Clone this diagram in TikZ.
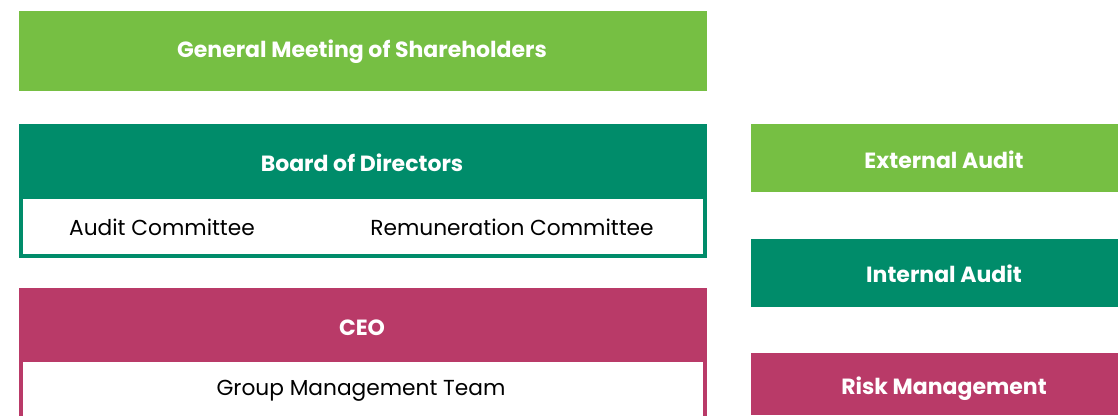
\documentclass[tikz,border=0pt]{standalone}
\usepackage{fontspec}
\setmainfont{Poppins}[Ligatures=NoCommon]
\definecolor{cgreen}{HTML}{76BF43}
\definecolor{cteal}{HTML}{008C6A}
\definecolor{cmag}{HTML}{B93A68}
\begin{document}
\begin{tikzpicture}[x=1pt,y=-1pt,
  head/.style={font=\fontsize{22}{26}\selectfont\bfseries, text=white},
  sub/.style={font=\fontsize{21.7}{26}\selectfont, text=black}]
\useasboundingbox (0,0) rectangle (1118,415);
% General Meeting
\fill[cgreen] (19,11) rectangle (707,91);
\node[head] (gms) at (362,52) {General Meeting of Shareholders};
% Board
\fill[cteal] (19,124) rectangle (707,195);
\node[head] (board) at (362,163) {Board of Directors};
\draw[cteal, line width=4pt] (21,197) rectangle (705,256);
\node[sub] (ac) at (162,227) {Audit Committee};
\node[sub] (rc) at (512,227) {Remuneration Committee};
% CEO
\fill[cmag] (19,288) rectangle (707,358);
\node[head] (ceo) at (362,328) {CEO};
\draw[cmag, line width=4pt] (21,360) -- (21,420) (705,360) -- (705,420) (19,360) -- (707,360);
\node[sub] (gmt) at (361,391) {Group Management Team};
% Right column
\fill[cgreen] (751,124) rectangle (1118,192);
\node[head] (ea) at (944,160) {External Audit};
\fill[cteal] (751,239) rectangle (1118,307);
\node[head] (ia) at (944,274) {Internal Audit};
\fill[cmag] (751,353) rectangle (1118,415);
\node[head] (rm) at (944,389) {Risk Management};
\end{tikzpicture}
\end{document}
